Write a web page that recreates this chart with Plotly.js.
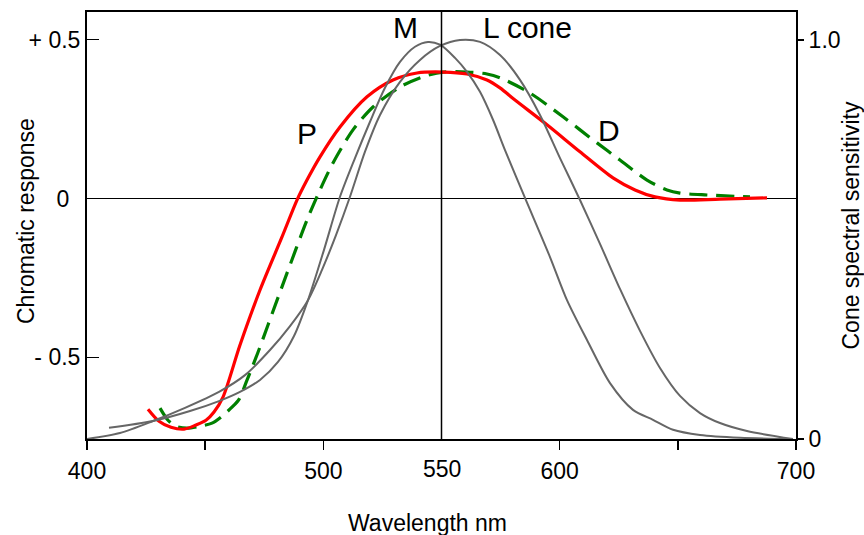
<!DOCTYPE html>
<html>
<head>
<meta charset="utf-8">
<script src="https://cdn.plot.ly/plotly-3.0.1.min.js"></script>
<style>html,body{margin:0;padding:0;background:#fff;}#chart{width:864px;height:535px;}</style>
</head>
<body>
<div id="chart"></div>
<script>
// Cone spectral sensitivities (right axis, 0..1)
const mConeWl   = [409.31, 427.93, 443.58, 455.85, 464.74, 473.20, 480.82, 487.59, 493.51, 500.28, 507.05, 513.40, 519.75, 526.09, 532.44, 538.79, 544.29, 549.37, 555.71, 560.79, 566.29, 571.79, 576.87, 585.33, 595.91, 603.10, 611.57, 621.30, 631.03, 639.49, 647.96, 659.38, 676.30, 698.73];
const mConeSens = [0.028, 0.045, 0.070, 0.095, 0.118, 0.148, 0.193, 0.258, 0.348, 0.474, 0.607, 0.704, 0.795, 0.880, 0.945, 0.983, 0.995, 0.988, 0.955, 0.920, 0.870, 0.800, 0.724, 0.604, 0.456, 0.348, 0.248, 0.140, 0.073, 0.048, 0.023, 0.010, 0.003, 0.0];
const lConeWl   = [400.00, 413.96, 427.93, 441.47, 455.85, 466.85, 477.43, 485.90, 493.51, 499.44, 505.36, 511.28, 517.63, 523.98, 532.44, 540.90, 549.37, 557.83, 566.29, 574.75, 583.21, 591.67, 600.14, 608.60, 617.06, 625.52, 633.99, 642.45, 650.91, 659.38, 667.84, 679.26, 698.73];
const lConeSens = [0.0, 0.015, 0.045, 0.078, 0.118, 0.160, 0.223, 0.283, 0.348, 0.424, 0.511, 0.607, 0.720, 0.812, 0.895, 0.950, 0.985, 1.0, 0.995, 0.962, 0.900, 0.812, 0.704, 0.599, 0.489, 0.376, 0.271, 0.178, 0.108, 0.065, 0.040, 0.020, 0.0];

// Chromatic response curves (left axis)
const protanWl   = [425.81, 430.47, 435.54, 441.04, 446.12, 450.35, 453.74, 457.55, 464.74, 473.20, 482.51, 488.85, 493.08, 498.59, 507.05, 518.48, 529.48, 539.63, 550.63, 560.79, 569.25, 574.75, 581.10, 594.64, 608.60, 622.56, 631.88, 640.34, 650.91, 667.84, 687.73];
const protanResp = [-0.663, -0.701, -0.720, -0.726, -0.713, -0.698, -0.672, -0.625, -0.461, -0.288, -0.121, -0.005, 0.058, 0.131, 0.225, 0.320, 0.373, 0.395, 0.398, 0.392, 0.373, 0.348, 0.310, 0.232, 0.147, 0.065, 0.027, 0.005, -0.005, -0.002, 0.002];
const deutanWl   = [430.89, 434.27, 437.66, 442.31, 447.81, 452.89, 456.70, 461.35, 464.32, 467.70, 472.36, 476.59, 484.63, 493.08, 498.59, 504.09, 512.55, 521.01, 532.44, 542.18, 550.63, 560.79, 569.25, 574.75, 587.45, 601.41, 615.80, 625.52, 636.94, 645.40, 650.91, 662.33, 680.52];
const deutanResp = [-0.660, -0.698, -0.717, -0.723, -0.717, -0.707, -0.688, -0.657, -0.632, -0.572, -0.484, -0.398, -0.235, -0.068, 0.027, 0.112, 0.216, 0.288, 0.351, 0.383, 0.398, 0.398, 0.392, 0.380, 0.332, 0.257, 0.175, 0.121, 0.058, 0.027, 0.017, 0.011, 0.005];

// Axis ticks / labels
const xTickVals = [400, 450, 500, 600, 650, 700];
const xTickText = ['400', '', '500', '600', '', '700'];
const refWavelength = 550;
const leftTickVals = [-0.5, 0, 0.5];
const leftTickText = ['- 0.5', '0\u00a0\u2009', '+ 0.5'];
const rightTickVals = [0, 1];
const rightTickText = ['0', '1.0'];

// Curve labels
const labelText = ['M', 'L cone', 'P', 'D'];
const labelX    = [534.6, 586.2, 493.1, 620.9];
const labelY    = [1.030, 1.030, 0.206, 0.213];
const labelAxis = ['y2', 'y2', 'y', 'y'];

const FONT = 'Liberation Sans, Arial, Helvetica, sans-serif';
const gray = '#666666';

const traces = [
  {x: mConeWl, y: mConeSens, yaxis: 'y2', mode: 'lines', line: {color: gray, width: 2, shape: 'spline', smoothing: 0.8}, hoverinfo: 'skip', name: 'M cone'},
  {x: lConeWl, y: lConeSens, yaxis: 'y2', mode: 'lines', line: {color: gray, width: 2, shape: 'spline', smoothing: 0.8}, hoverinfo: 'skip', name: 'L cone'},
  {x: deutanWl, y: deutanResp, yaxis: 'y', mode: 'lines', line: {color: '#008000', width: 3.2, dash: '18px,9px', shape: 'spline', smoothing: 0.8}, name: 'D'},
  {x: protanWl, y: protanResp, yaxis: 'y', mode: 'lines', line: {color: '#ff0000', width: 3.2, shape: 'spline', smoothing: 0.8}, name: 'P'}
];

const annotations = labelText.map((t, i) => ({
  text: t, x: labelX[i], y: labelY[i], xref: 'x', yref: labelAxis[i],
  showarrow: false, xanchor: 'center', yanchor: 'middle',
  font: {family: FONT, size: 30, color: '#000'}
}));
annotations.push({text: String(refWavelength), x: refWavelength, y: 0, xref: 'x', yref: 'paper', yanchor: 'top', xanchor: 'center', showarrow: false, yshift: -15, font: {family: FONT, size: 23, color: '#000'}});
annotations.push({text: 'Wavelength nm', x: 400 + (427 - 87) * 300 / 709, y: -(523 - 439) / 427, xref: 'x', yref: 'paper', xanchor: 'center', yanchor: 'middle', showarrow: false, font: {family: FONT, size: 23, color: '#000'}});
annotations.push({text: 'Chromatic response', x: (26 - 87) / 709, y: (439 - 221) / 427, xref: 'paper', yref: 'paper', textangle: -90, xanchor: 'center', yanchor: 'middle', showarrow: false, font: {family: FONT, size: 23, color: '#000'}});

const layout = {
  width: 864, height: 535,
  margin: {l: 87, r: 68, t: 12, b: 96, pad: 0},
  paper_bgcolor: '#fff', plot_bgcolor: '#fff',
  showlegend: false,
  font: {family: FONT, color: '#000'},
  xaxis: {
    range: [400, 700], tickvals: xTickVals, ticktext: xTickText,
    ticks: 'outside', ticklen: 9, tickwidth: 1.5, tickcolor: '#000',
    showline: true, linewidth: 2, linecolor: '#000', mirror: true,
    showgrid: false, zeroline: false, ticklabelstandoff: 1,
    tickfont: {family: FONT, size: 23, color: '#000'}
  },
  yaxis: {
    range: [-0.757, 0.587], tickvals: leftTickVals, ticktext: leftTickText,
    ticks: 'inside', ticklen: 12, tickwidth: 1.5, tickcolor: '#000',
    showline: true, linewidth: 2, linecolor: '#000',
    showgrid: false, zeroline: true, zerolinecolor: '#000', zerolinewidth: 1.5,
    tickfont: {family: FONT, size: 23, color: '#000'}
  },
  yaxis2: {
    overlaying: 'y', side: 'right',
    range: [0, 1.070], tickvals: rightTickVals, ticktext: rightTickText,
    ticks: 'outside', ticklen: 6, tickwidth: 1.5, tickcolor: '#000',
    showline: true, linewidth: 2, linecolor: '#000',
    showgrid: false, zeroline: false,
    tickfont: {family: FONT, size: 23, color: '#000'},
    title: {text: 'Cone spectral sensitivity', font: {family: FONT, size: 23, color: '#000'}, standoff: 6}
  },
  shapes: [
    {type: 'line', xref: 'x', yref: 'paper', x0: refWavelength, x1: refWavelength, y0: 0, y1: 1, line: {color: '#000', width: 1.5}}
  ],
  annotations: annotations
};

Plotly.newPlot('chart', traces, layout, {displayModeBar: false, staticPlot: true});
</script>
</body>
</html>
